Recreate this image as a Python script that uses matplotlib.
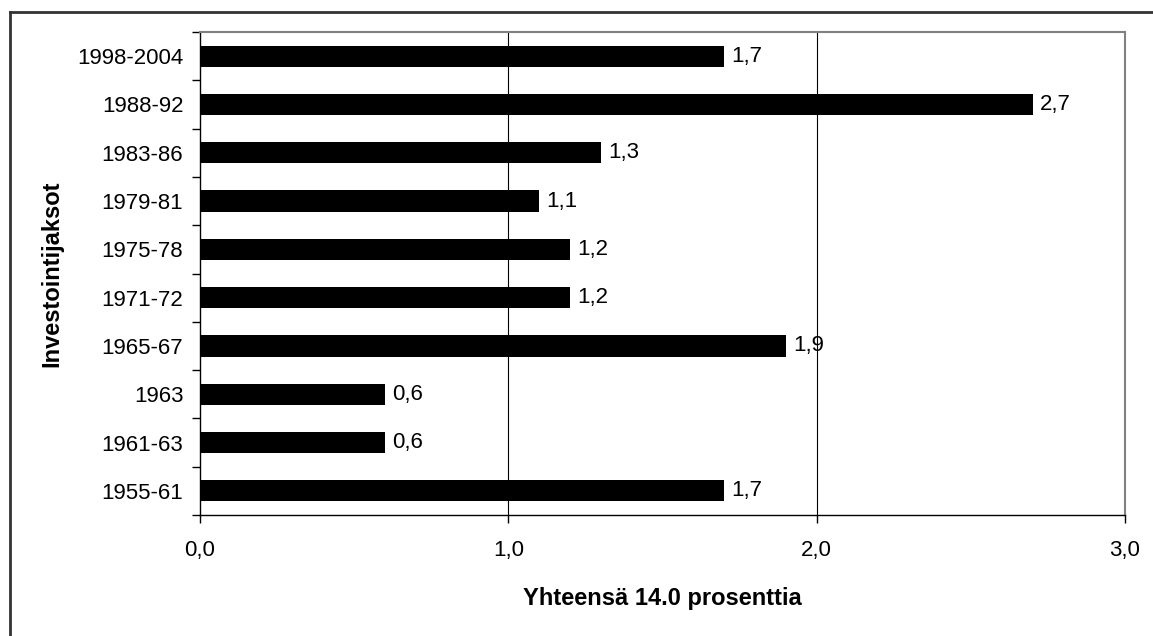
import numpy as np
import matplotlib
matplotlib.use("Agg")
import matplotlib.pyplot as plt
from matplotlib.lines import Line2D

# data (bottom to top)
periods = ['1955-61', '1961-63', '1963', '1965-67', '1971-72',
           '1975-78', '1979-81', '1983-86', '1988-92', '1998-2004']
values = [1.7, 0.6, 0.6, 1.9, 1.2, 1.2, 1.1, 1.3, 2.7, 1.7]
x_ticks = [0.0, 1.0, 2.0, 3.0]

plt.rcParams['font.family'] = ['Liberation Sans', 'DejaVu Sans']

W, H = 1153, 636
fig = plt.figure(figsize=(W / 100, H / 100), dpi=100)
ax = fig.add_axes([200 / W, 1 - 515 / H, 925 / W, 483 / H])

y = np.arange(len(periods))
ax.barh(y, values, height=0.44, color='black', zorder=3)

for yi, v in zip(y, values):
    ax.annotate(f"{v:.1f}".replace('.', ','), (v, yi), xytext=(5, 0),
                textcoords='offset points', va='center', ha='left', fontsize=16)

ax.set_xlim(0, 3)
ax.set_ylim(-0.5, len(periods) - 0.5)

ax.set_xticks(x_ticks)
ax.set_xticklabels([f"{t:.1f}".replace('.', ',') for t in x_ticks], fontsize=16)
ax.tick_params(axis='x', direction='out', length=6, width=1, pad=12)

ax.set_yticks(y)
ax.set_yticklabels(periods, fontsize=16)
ax.set_yticks(np.arange(-0.5, len(periods)), minor=True)
ax.tick_params(axis='y', which='major', length=0, pad=12)
ax.tick_params(axis='y', which='minor', direction='out', length=6, width=1)

for t in x_ticks[1:]:
    ax.axvline(t, color='black', lw=0.8, zorder=1)

for s in ['top', 'right']:
    ax.spines[s].set_color('#808080')
    ax.spines[s].set_linewidth(1.5)
for s in ['left', 'bottom']:
    ax.spines[s].set_color('black')
    ax.spines[s].set_linewidth(1)

ax.set_xlabel('Yhteensä 14.0 prosenttia', fontsize=17, fontweight='bold', labelpad=19)
ax.set_ylabel('Investointijaksot', fontsize=17, fontweight='bold', labelpad=10)

# outer chart border (only left and top visible)
fig.add_artist(Line2D([10.5 / W, 10.5 / W], [0, 1 - 12 / H], color='#333333', lw=2))
fig.add_artist(Line2D([10.5 / W, 1], [1 - 12 / H, 1 - 12 / H], color='#333333', lw=2))

fig.savefig('out.png', dpi=100)
